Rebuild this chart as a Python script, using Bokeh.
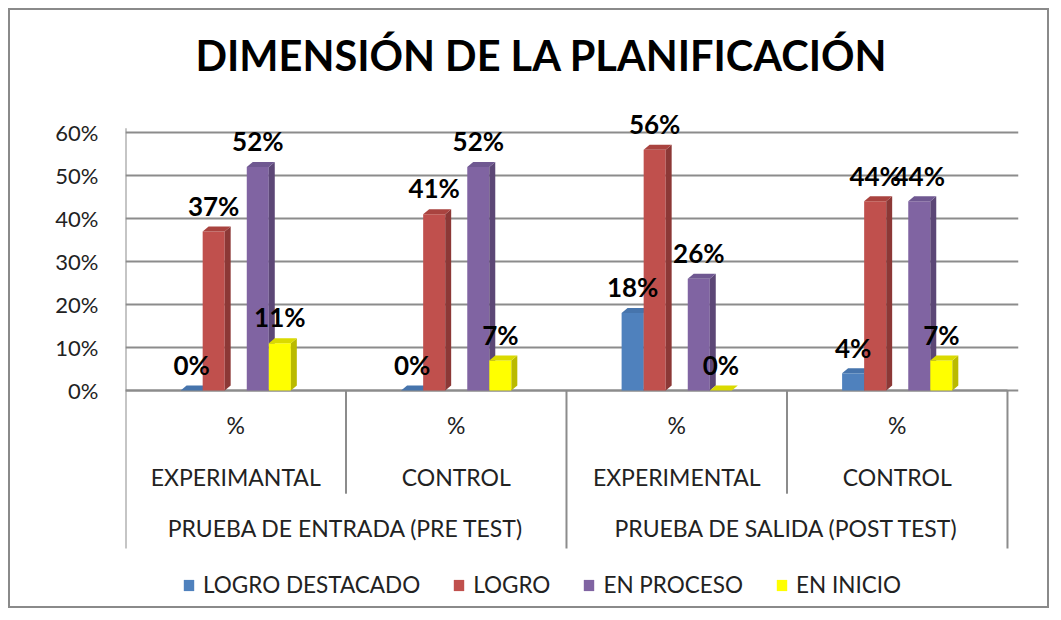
from bokeh.plotting import figure
from bokeh.models import Range1d, FixedTicker, Legend, LegendItem, ColumnDataSource, PrintfTickFormatter
from bokeh.core.properties import value
from bokeh.embed import file_html
from bokeh.resources import INLINE

# ---------------- data ----------------
title_text = "DIMENSIÓN DE LA PLANIFICACIÓN"
groups = ["PRUEBA DE ENTRADA (PRE TEST)", "PRUEBA DE SALIDA (POST TEST)"]
subgroups = ["EXPERIMANTAL", "CONTROL", "EXPERIMENTAL", "CONTROL"]
subgroup_group = [0, 0, 1, 1]
unit_label = "%"
series_names = ["LOGRO DESTACADO", "LOGRO", "EN PROCESO", "EN INICIO"]
logro_destacado = [0, 0, 18, 4]
logro = [37, 41, 56, 44]
en_proceso = [52, 52, 26, 44]
en_inicio = [11, 7, 0, 7]
y_ticks = [0, 10, 20, 30, 40, 50, 60]

series_values = [logro_destacado, logro, en_proceso, en_inicio]

# ---------------- style ----------------
front_colors = ["#4F81BD", "#C0504D", "#8064A2", "#FFFF00"]
side_colors = ["#385D8A", "#8C3836", "#5C4776", "#BABA00"]
top_colors = ["#4674AC", "#A9433F", "#6F5891", "#DADA00"]
offsets = [-0.2, -0.1, 0.1, 0.2]
bar_w = 0.1
dx = 0.027   # 3D depth, x units
dy = 1.16    # 3D depth, value units
FONT = "Lato"
GRID = "#8C8C8C"
TXT = "#222222"

n_cat = len(subgroups)
y_lo, y_hi = -51.16, 69.07
axis_bottom = -36.74

p = figure(width=1041, height=600, output_backend="svg", toolbar_location=None,
           x_axis_location=None, x_range=Range1d(0, 4.05), y_range=Range1d(y_lo, y_hi),
           min_border_left=115, min_border_right=33, min_border_top=83, min_border_bottom=0,
           styles={"border": "2px solid #8A8A8A", "margin-left": "8px", "margin-top": "8px"})
p.outline_line_color = None
p.background_fill_color = "white"
p.border_fill_color = "white"

p.title.text = title_text
p.title.align = "left"
p.title.offset = 70
p.title.text_font = FONT
p.title.text_font_style = "bold"
p.title.text_font_size = "41.5px"
p.title.text_color = "black"
p.title.standoff = 27

ax = p.yaxis[0]
ax.ticker = FixedTicker(ticks=y_ticks)
ax.formatter = PrintfTickFormatter(format="%d%%")
ax.major_label_text_font = FONT
ax.major_label_text_font_size = "22px"
ax.major_label_text_color = TXT
ax.major_label_standoff = 21
ax.major_tick_line_color = None
ax.minor_tick_line_color = None
ax.axis_line_color = None

p.xgrid.visible = False
p.ygrid.ticker = FixedTicker(ticks=y_ticks)
p.ygrid.grid_line_color = GRID
p.ygrid.grid_line_width = 2

# left wall / axis line and floor front edge
p.segment(x0=[0], y0=[61], x1=[0], y1=[axis_bottom], line_color=GRID, line_width=2)
p.segment(x0=[0], y0=[0], x1=[n_cat], y1=[0], line_color=GRID, line_width=2)

# bars (front, side, top)
legend_items = []
for s, vals in enumerate(series_values):
    xs = [i + 0.5 + offsets[s] for i in range(n_cat)]
    r = p.vbar(x=xs, top=vals, bottom=0, width=bar_w, fill_color=front_colors[s],
               line_color=None)
    side_x, side_y, top_x, top_y = [], [], [], []
    for c, v in zip(xs, vals):
        xr = c + bar_w / 2
        xl = c - bar_w / 2
        side_x.append([xr, xr + dx, xr + dx, xr])
        side_y.append([0, dy, v + dy, v])
        top_x.append([xl, xr, xr + dx, xl + dx])
        top_y.append([v, v, v + dy, v + dy])
    p.patches(side_x, side_y, fill_color=side_colors[s], line_color=None)
    p.patches(top_x, top_y, fill_color=top_colors[s], line_color=None)
    legend_items.append(LegendItem(label=series_names[s], renderers=[r]))

# data labels
for s, vals in enumerate(series_values):
    src = ColumnDataSource(dict(
        x=[i + 0.5 + offsets[s] for i in range(n_cat)],
        y=[v + 6 for v in vals],
        t=[f"{v}%" for v in vals]))
    p.text(x="x", y="y", text="t", source=src, text_align="center", text_baseline="middle",
           text_font=value(FONT), text_font_style="bold", text_font_size="26px", text_color="black")

# category axis (drawn manually to reproduce the multi-level Excel axis)
cat_x = [i + 0.5 for i in range(n_cat)]
p.text(x=cat_x, y=[-8.1] * n_cat, text=[unit_label] * n_cat, text_align="center",
       text_baseline="middle", text_font=value(FONT), text_font_size="23px", text_color=TXT)
p.text(x=cat_x, y=[-20.2] * n_cat, text=subgroups, text_align="center",
       text_baseline="middle", text_font=value(FONT), text_font_size="23px", text_color=TXT)
grp_x = [sum(i + 0.5 for i in range(n_cat) if subgroup_group[i] == g) /
         subgroup_group.count(g) for g in range(len(groups))]
p.text(x=grp_x, y=[-31.9] * len(groups), text=groups, text_align="center",
       text_baseline="middle", text_font=value(FONT), text_font_size="23px", text_color=TXT)

inner = [i for i in range(1, n_cat) if subgroup_group[i] == subgroup_group[i - 1]]
outer = [i for i in range(1, n_cat + 1) if i == n_cat or subgroup_group[i] != subgroup_group[i - 1]]
p.segment(x0=inner, y0=[0] * len(inner), x1=inner, y1=[-24] * len(inner),
          line_color=GRID, line_width=2)
p.segment(x0=outer, y0=[0] * len(outer), x1=outer, y1=[axis_bottom] * len(outer),
          line_color=GRID, line_width=2)

legend = Legend(items=legend_items, orientation="horizontal", location=(57, 12),
                glyph_width=13, glyph_height=14, label_text_font=FONT,
                label_text_font_size="22.5px", label_text_color=TXT,
                spacing=32, label_standoff=8, border_line_color=None,
                background_fill_alpha=0, padding=4, margin=0)
p.add_layout(legend, "center")

open("out.html", "w").write(file_html(p, INLINE))
